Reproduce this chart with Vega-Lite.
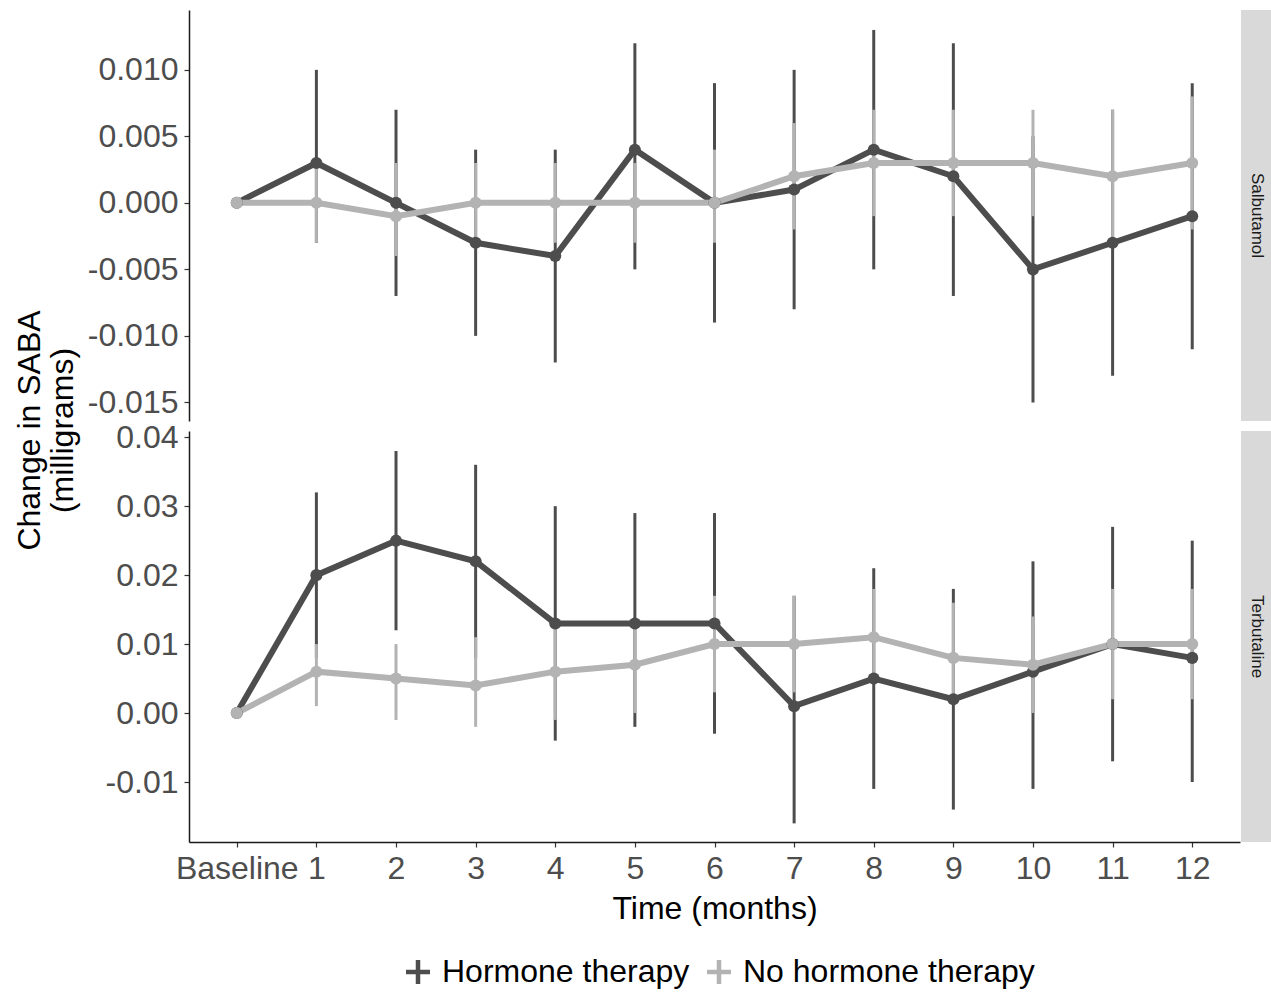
{
  "$schema": "https://vega.github.io/schema/vega-lite/v6.json",
  "padding": {"left": 13, "top": 10, "right": 0, "bottom": 5},
  "config": {
    "font": "Liberation Sans",
    "view": {"stroke": null},
    "locale": {"number": {"decimal": ".", "thousands": ",", "grouping": [3], "currency": ["$", ""], "minus": "-"}},
    "axis": {"domainColor": "#1a1a1a", "domainWidth": 1.5, "tickColor": "#333333", "tickSize": 5, "tickWidth": 1.2, "labelFontSize": 32, "labelColor": "#4d4d4d", "titleFontSize": 32, "titleFontWeight": "normal", "titleColor": "#000000", "grid": false, "labelFont": "Liberation Sans", "titleFont": "Liberation Sans"},
    "legend": {"labelFont": "Liberation Sans", "labelFontSize": 32, "labelColor": "#000000", "labelLimit": 500}
  },
  "datasets": {
    "d": [
      {"drug": "Salbutamol", "group": "Hormone therapy", "time": "Baseline", "m": 0, "v": 0, "lo": null, "hi": null},
      {"drug": "Salbutamol", "group": "Hormone therapy", "time": "1", "m": 1, "v": 0.003, "lo": -0.003, "hi": 0.010},
      {"drug": "Salbutamol", "group": "Hormone therapy", "time": "2", "m": 2, "v": 0.0, "lo": -0.007, "hi": 0.007},
      {"drug": "Salbutamol", "group": "Hormone therapy", "time": "3", "m": 3, "v": -0.003, "lo": -0.010, "hi": 0.004},
      {"drug": "Salbutamol", "group": "Hormone therapy", "time": "4", "m": 4, "v": -0.004, "lo": -0.012, "hi": 0.004},
      {"drug": "Salbutamol", "group": "Hormone therapy", "time": "5", "m": 5, "v": 0.004, "lo": -0.005, "hi": 0.012},
      {"drug": "Salbutamol", "group": "Hormone therapy", "time": "6", "m": 6, "v": 0.0, "lo": -0.009, "hi": 0.009},
      {"drug": "Salbutamol", "group": "Hormone therapy", "time": "7", "m": 7, "v": 0.001, "lo": -0.008, "hi": 0.010},
      {"drug": "Salbutamol", "group": "Hormone therapy", "time": "8", "m": 8, "v": 0.004, "lo": -0.005, "hi": 0.013},
      {"drug": "Salbutamol", "group": "Hormone therapy", "time": "9", "m": 9, "v": 0.002, "lo": -0.007, "hi": 0.012},
      {"drug": "Salbutamol", "group": "Hormone therapy", "time": "10", "m": 10, "v": -0.005, "lo": -0.015, "hi": 0.005},
      {"drug": "Salbutamol", "group": "Hormone therapy", "time": "11", "m": 11, "v": -0.003, "lo": -0.013, "hi": 0.007},
      {"drug": "Salbutamol", "group": "Hormone therapy", "time": "12", "m": 12, "v": -0.001, "lo": -0.011, "hi": 0.009},
      {"drug": "Salbutamol", "group": "No hormone therapy", "time": "Baseline", "m": 0, "v": 0, "lo": null, "hi": null},
      {"drug": "Salbutamol", "group": "No hormone therapy", "time": "1", "m": 1, "v": 0.0, "lo": -0.003, "hi": 0.003},
      {"drug": "Salbutamol", "group": "No hormone therapy", "time": "2", "m": 2, "v": -0.001, "lo": -0.004, "hi": 0.003},
      {"drug": "Salbutamol", "group": "No hormone therapy", "time": "3", "m": 3, "v": 0.0, "lo": -0.003, "hi": 0.003},
      {"drug": "Salbutamol", "group": "No hormone therapy", "time": "4", "m": 4, "v": 0.0, "lo": -0.003, "hi": 0.003},
      {"drug": "Salbutamol", "group": "No hormone therapy", "time": "5", "m": 5, "v": 0.0, "lo": -0.003, "hi": 0.003},
      {"drug": "Salbutamol", "group": "No hormone therapy", "time": "6", "m": 6, "v": 0.0, "lo": -0.003, "hi": 0.004},
      {"drug": "Salbutamol", "group": "No hormone therapy", "time": "7", "m": 7, "v": 0.002, "lo": -0.002, "hi": 0.006},
      {"drug": "Salbutamol", "group": "No hormone therapy", "time": "8", "m": 8, "v": 0.003, "lo": -0.001, "hi": 0.007},
      {"drug": "Salbutamol", "group": "No hormone therapy", "time": "9", "m": 9, "v": 0.003, "lo": -0.001, "hi": 0.007},
      {"drug": "Salbutamol", "group": "No hormone therapy", "time": "10", "m": 10, "v": 0.003, "lo": -0.001, "hi": 0.007},
      {"drug": "Salbutamol", "group": "No hormone therapy", "time": "11", "m": 11, "v": 0.002, "lo": -0.003, "hi": 0.007},
      {"drug": "Salbutamol", "group": "No hormone therapy", "time": "12", "m": 12, "v": 0.003, "lo": -0.002, "hi": 0.008},
      {"drug": "Terbutaline", "group": "Hormone therapy", "time": "Baseline", "m": 0, "v": 0, "lo": null, "hi": null},
      {"drug": "Terbutaline", "group": "Hormone therapy", "time": "1", "m": 1, "v": 0.020, "lo": 0.008, "hi": 0.032},
      {"drug": "Terbutaline", "group": "Hormone therapy", "time": "2", "m": 2, "v": 0.025, "lo": 0.012, "hi": 0.038},
      {"drug": "Terbutaline", "group": "Hormone therapy", "time": "3", "m": 3, "v": 0.022, "lo": 0.008, "hi": 0.036},
      {"drug": "Terbutaline", "group": "Hormone therapy", "time": "4", "m": 4, "v": 0.013, "lo": -0.004, "hi": 0.030},
      {"drug": "Terbutaline", "group": "Hormone therapy", "time": "5", "m": 5, "v": 0.013, "lo": -0.002, "hi": 0.029},
      {"drug": "Terbutaline", "group": "Hormone therapy", "time": "6", "m": 6, "v": 0.013, "lo": -0.003, "hi": 0.029},
      {"drug": "Terbutaline", "group": "Hormone therapy", "time": "7", "m": 7, "v": 0.001, "lo": -0.016, "hi": 0.017},
      {"drug": "Terbutaline", "group": "Hormone therapy", "time": "8", "m": 8, "v": 0.005, "lo": -0.011, "hi": 0.021},
      {"drug": "Terbutaline", "group": "Hormone therapy", "time": "9", "m": 9, "v": 0.002, "lo": -0.014, "hi": 0.018},
      {"drug": "Terbutaline", "group": "Hormone therapy", "time": "10", "m": 10, "v": 0.006, "lo": -0.011, "hi": 0.022},
      {"drug": "Terbutaline", "group": "Hormone therapy", "time": "11", "m": 11, "v": 0.010, "lo": -0.007, "hi": 0.027},
      {"drug": "Terbutaline", "group": "Hormone therapy", "time": "12", "m": 12, "v": 0.008, "lo": -0.010, "hi": 0.025},
      {"drug": "Terbutaline", "group": "No hormone therapy", "time": "Baseline", "m": 0, "v": 0, "lo": null, "hi": null},
      {"drug": "Terbutaline", "group": "No hormone therapy", "time": "1", "m": 1, "v": 0.006, "lo": 0.001, "hi": 0.010},
      {"drug": "Terbutaline", "group": "No hormone therapy", "time": "2", "m": 2, "v": 0.005, "lo": -0.001, "hi": 0.010},
      {"drug": "Terbutaline", "group": "No hormone therapy", "time": "3", "m": 3, "v": 0.004, "lo": -0.002, "hi": 0.011},
      {"drug": "Terbutaline", "group": "No hormone therapy", "time": "4", "m": 4, "v": 0.006, "lo": -0.001, "hi": 0.013},
      {"drug": "Terbutaline", "group": "No hormone therapy", "time": "5", "m": 5, "v": 0.007, "lo": 0.000, "hi": 0.013},
      {"drug": "Terbutaline", "group": "No hormone therapy", "time": "6", "m": 6, "v": 0.010, "lo": 0.003, "hi": 0.017},
      {"drug": "Terbutaline", "group": "No hormone therapy", "time": "7", "m": 7, "v": 0.010, "lo": 0.003, "hi": 0.017},
      {"drug": "Terbutaline", "group": "No hormone therapy", "time": "8", "m": 8, "v": 0.011, "lo": 0.005, "hi": 0.018},
      {"drug": "Terbutaline", "group": "No hormone therapy", "time": "9", "m": 9, "v": 0.008, "lo": 0.002, "hi": 0.016},
      {"drug": "Terbutaline", "group": "No hormone therapy", "time": "10", "m": 10, "v": 0.007, "lo": 0.000, "hi": 0.014},
      {"drug": "Terbutaline", "group": "No hormone therapy", "time": "11", "m": 11, "v": 0.010, "lo": 0.002, "hi": 0.018},
      {"drug": "Terbutaline", "group": "No hormone therapy", "time": "12", "m": 12, "v": 0.010, "lo": 0.002, "hi": 0.018}
    ]
  },
  "columns": 2,
  "spacing": {"row": 10, "column": 1},
  "bounds": "flush",
  "resolve": {"scale": {"x": "independent", "y": "independent"}},
  "concat": [
    {
      "width": 1051,
      "height": 411,
      "data": {"name": "d"},
      "transform": [{"filter": "datum.drug == 'Salbutamol'"}],
      "encoding": {
        "x": {"field": "time", "type": "ordinal", "sort": ["Baseline", "1", "2", "3", "4", "5", "6", "7", "8", "9", "10", "11", "12"], "scale": {"type": "point", "padding": 0.6}, "axis": null}
      },
      "layer": [
        {
          "transform": [{"filter": "isValid(datum.lo)"}],
          "mark": {"type": "rule", "strokeWidth": 3},
          "encoding": {
            "y": {"field": "lo", "type": "quantitative", "scale": {"domain": [-0.0164, 0.0145], "nice": false, "zero": false}, "axis": {"values": [-0.015, -0.01, -0.005, 0, 0.005, 0.01], "format": ".3f", "title": ["Change in SABA", "(milligrams)"], "titleX": -143, "titleY": 420, "titleLineHeight": 33, "labelPadding": 6}},
            "y2": {"field": "hi"},
            "stroke": {"field": "group", "type": "nominal", "scale": {"domain": ["Hormone therapy", "No hormone therapy"], "range": ["#4d4d4d", "#b3b3b3"]}, "legend": {"orient": "none", "legendX": 213, "legendY": 946, "direction": "horizontal", "title": null, "symbolType": "M-1,0H1M0,-1V1", "symbolSize": 576, "symbolStrokeWidth": 4.5, "labelOffset": 8, "columnPadding": 8}}
          }
        },
        {
          "mark": {"type": "line", "strokeWidth": 6},
          "encoding": {
            "y": {"field": "v", "type": "quantitative", "scale": {"domain": [-0.0164, 0.0145], "nice": false, "zero": false}, "axis": {"values": [-0.015, -0.01, -0.005, 0, 0.005, 0.01], "format": ".3f", "title": ["Change in SABA", "(milligrams)"], "titleX": -143, "titleY": 420, "titleLineHeight": 33, "labelPadding": 6}},
            "order": {"field": "m", "type": "quantitative"},
            "stroke": {"field": "group", "type": "nominal", "scale": {"domain": ["Hormone therapy", "No hormone therapy"], "range": ["#4d4d4d", "#b3b3b3"]}, "legend": {"orient": "none", "legendX": 213, "legendY": 946, "direction": "horizontal", "title": null, "symbolType": "M-1,0H1M0,-1V1", "symbolSize": 576, "symbolStrokeWidth": 4.5, "labelOffset": 8, "columnPadding": 8}}
          }
        },
        {
          "mark": {"type": "point", "filled": true, "size": 145, "opacity": 1},
          "encoding": {
            "y": {"field": "v", "type": "quantitative", "scale": {"domain": [-0.0164, 0.0145], "nice": false, "zero": false}, "axis": {"values": [-0.015, -0.01, -0.005, 0, 0.005, 0.01], "format": ".3f", "title": ["Change in SABA", "(milligrams)"], "titleX": -143, "titleY": 420, "titleLineHeight": 33, "labelPadding": 6}},
            "fill": {"field": "group", "type": "nominal", "scale": {"domain": ["Hormone therapy", "No hormone therapy"], "range": ["#4d4d4d", "#b3b3b3"]}, "legend": null}
          }
        },
        {
          "mark": {"type": "rule", "color": "#000000", "strokeWidth": 1.3, "strokeDash": [1.5, 4.5]},
          "encoding": {
            "y": {"datum": 0, "type": "quantitative", "scale": {"domain": [-0.0164, 0.0145], "nice": false, "zero": false}, "axis": {"values": [-0.015, -0.01, -0.005, 0, 0.005, 0.01], "format": ".3f", "title": ["Change in SABA", "(milligrams)"], "titleX": -143, "titleY": 420, "titleLineHeight": 33, "labelPadding": 6}}
          }
        }
      ]
    },
    {
      "width": 31,
      "height": 411,
      "view": {"fill": "#d9d9d9", "stroke": null},
      "data": {"values": [{"drug": "Salbutamol"}]},
      "mark": {"type": "text", "angle": 90, "fontSize": 17, "color": "#1a1a1a", "align": "center", "baseline": "middle"},
      "encoding": {
        "x": {"datum": 0.5, "type": "quantitative", "scale": {"domain": [0, 1]}, "axis": null},
        "y": {"datum": 0.5, "type": "quantitative", "scale": {"domain": [0, 1]}, "axis": null},
        "text": {"field": "drug", "type": "nominal"}
      }
    },
    {
      "width": 1051,
      "height": 411,
      "data": {"name": "d"},
      "transform": [{"filter": "datum.drug == 'Terbutaline'"}],
      "encoding": {
        "x": {"field": "time", "type": "ordinal", "sort": ["Baseline", "1", "2", "3", "4", "5", "6", "7", "8", "9", "10", "11", "12"], "scale": {"type": "point", "padding": 0.6}, "axis": {"title": "Time (months)", "labelAngle": 0, "labelPadding": 6, "titlePadding": 9}}
      },
      "layer": [
        {
          "transform": [{"filter": "isValid(datum.lo)"}],
          "mark": {"type": "rule", "strokeWidth": 3},
          "encoding": {
            "y": {"field": "lo", "type": "quantitative", "scale": {"domain": [-0.0187, 0.0409], "nice": false, "zero": false}, "axis": {"values": [-0.01, 0, 0.01, 0.02, 0.03, 0.04], "format": ".2f", "title": null, "labelPadding": 6}},
            "y2": {"field": "hi"},
            "stroke": {"field": "group", "type": "nominal", "scale": {"domain": ["Hormone therapy", "No hormone therapy"], "range": ["#4d4d4d", "#b3b3b3"]}, "legend": {"orient": "none", "legendX": 213, "legendY": 946, "direction": "horizontal", "title": null, "symbolType": "M-1,0H1M0,-1V1", "symbolSize": 576, "symbolStrokeWidth": 4.5, "labelOffset": 8, "columnPadding": 8}}
          }
        },
        {
          "mark": {"type": "line", "strokeWidth": 6},
          "encoding": {
            "y": {"field": "v", "type": "quantitative", "scale": {"domain": [-0.0187, 0.0409], "nice": false, "zero": false}, "axis": {"values": [-0.01, 0, 0.01, 0.02, 0.03, 0.04], "format": ".2f", "title": null, "labelPadding": 6}},
            "order": {"field": "m", "type": "quantitative"},
            "stroke": {"field": "group", "type": "nominal", "scale": {"domain": ["Hormone therapy", "No hormone therapy"], "range": ["#4d4d4d", "#b3b3b3"]}, "legend": {"orient": "none", "legendX": 213, "legendY": 946, "direction": "horizontal", "title": null, "symbolType": "M-1,0H1M0,-1V1", "symbolSize": 576, "symbolStrokeWidth": 4.5, "labelOffset": 8, "columnPadding": 8}}
          }
        },
        {
          "mark": {"type": "point", "filled": true, "size": 145, "opacity": 1},
          "encoding": {
            "y": {"field": "v", "type": "quantitative", "scale": {"domain": [-0.0187, 0.0409], "nice": false, "zero": false}, "axis": {"values": [-0.01, 0, 0.01, 0.02, 0.03, 0.04], "format": ".2f", "title": null, "labelPadding": 6}},
            "fill": {"field": "group", "type": "nominal", "scale": {"domain": ["Hormone therapy", "No hormone therapy"], "range": ["#4d4d4d", "#b3b3b3"]}, "legend": null}
          }
        },
        {
          "mark": {"type": "rule", "color": "#000000", "strokeWidth": 1.3, "strokeDash": [1.5, 4.5]},
          "encoding": {
            "y": {"datum": 0, "type": "quantitative", "scale": {"domain": [-0.0187, 0.0409], "nice": false, "zero": false}, "axis": {"values": [-0.01, 0, 0.01, 0.02, 0.03, 0.04], "format": ".2f", "title": null, "labelPadding": 6}}
          }
        }
      ]
    },
    {
      "width": 31,
      "height": 411,
      "view": {"fill": "#d9d9d9", "stroke": null},
      "data": {"values": [{"drug": "Terbutaline"}]},
      "mark": {"type": "text", "angle": 90, "fontSize": 17, "color": "#1a1a1a", "align": "center", "baseline": "middle"},
      "encoding": {
        "x": {"datum": 0.5, "type": "quantitative", "scale": {"domain": [0, 1]}, "axis": null},
        "y": {"datum": 0.5, "type": "quantitative", "scale": {"domain": [0, 1]}, "axis": null},
        "text": {"field": "drug", "type": "nominal"}
      }
    }
  ]
}
